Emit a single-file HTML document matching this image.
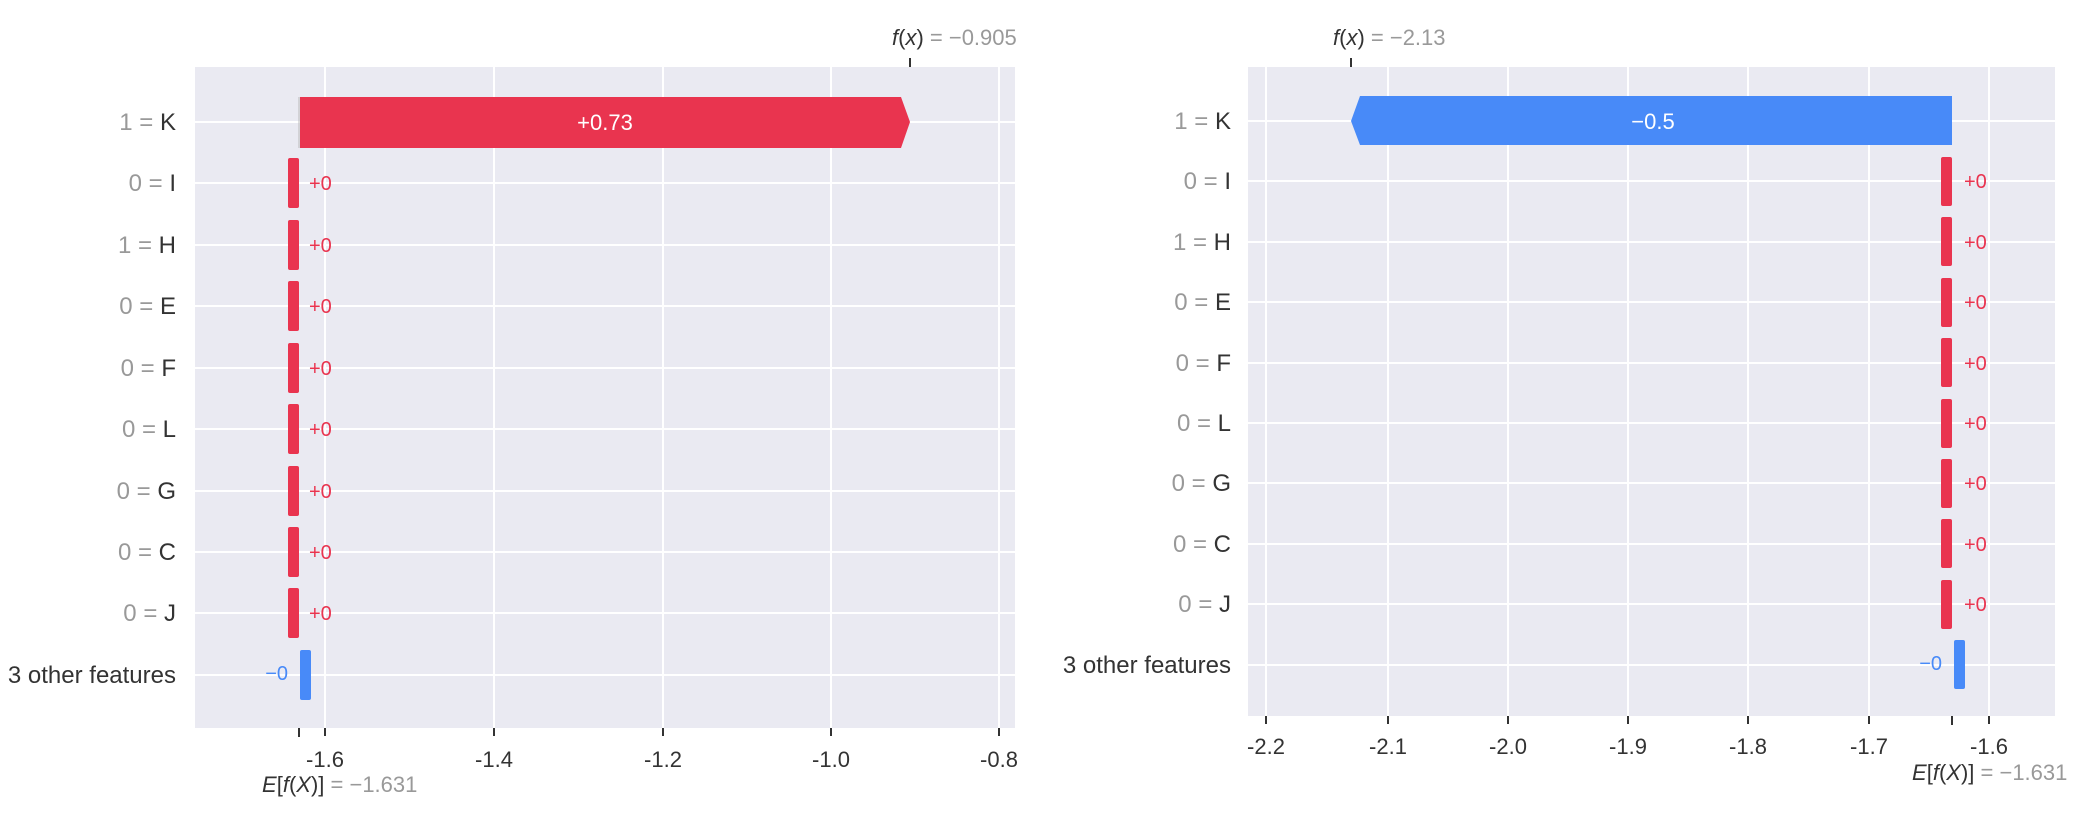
<!DOCTYPE html>
<html><head><meta charset="utf-8"><style>
html,body{margin:0;padding:0;background:#fff;}
svg{display:block;font-family:"Liberation Sans","DejaVu Sans",sans-serif;}
.g{fill:#999;}
.d{fill:#333;}
.tk{font-size:22px;fill:#333;}
</style></head><body>
<svg width="2098" height="820" viewBox="0 0 2098 820" xmlns="http://www.w3.org/2000/svg">
<!-- LEFT CHART -->
<rect x="195" y="67" width="820" height="661" fill="#eaeaf2"/>
<g stroke="#fff" stroke-width="2">
<line x1="325" y1="67" x2="325" y2="728"/><line x1="494" y1="67" x2="494" y2="728"/><line x1="663" y1="67" x2="663" y2="728"/><line x1="831" y1="67" x2="831" y2="728"/><line x1="999" y1="67" x2="999" y2="728"/>
<line x1="195" y1="122" x2="1015" y2="122"/><line x1="195" y1="183" x2="1015" y2="183"/><line x1="195" y1="245" x2="1015" y2="245"/><line x1="195" y1="306" x2="1015" y2="306"/><line x1="195" y1="368" x2="1015" y2="368"/><line x1="195" y1="429" x2="1015" y2="429"/><line x1="195" y1="491" x2="1015" y2="491"/><line x1="195" y1="552" x2="1015" y2="552"/><line x1="195" y1="613" x2="1015" y2="613"/><line x1="195" y1="675" x2="1015" y2="675"/>
</g>
<line x1="299" y1="97" x2="299" y2="148" stroke="#bbb" stroke-width="1"/>
<polygon points="300,97 901,97 910,122 901,148 300,148" fill="#e9344f"/>
<text x="605" y="130" font-size="22" fill="#fff" text-anchor="middle">+0.73</text>
<g fill="#e9344f">
<rect x="288" y="158" width="11" height="50" rx="2"/><rect x="288" y="220" width="11" height="50" rx="2"/><rect x="288" y="281" width="11" height="50" rx="2"/><rect x="288" y="343" width="11" height="50" rx="2"/><rect x="288" y="404" width="11" height="50" rx="2"/><rect x="288" y="466" width="11" height="50" rx="2"/><rect x="288" y="527" width="11" height="50" rx="2"/><rect x="288" y="588" width="11" height="50" rx="2"/>
</g>
<rect x="300" y="650" width="11" height="50" rx="2" fill="#488af8"/>
<g font-size="20" fill="#e9344f">
<text x="309" y="190">+0</text><text x="309" y="252">+0</text><text x="309" y="313">+0</text><text x="309" y="375">+0</text><text x="309" y="436">+0</text><text x="309" y="498">+0</text><text x="309" y="559">+0</text><text x="309" y="620">+0</text>
</g>
<text x="288" y="680" font-size="20" fill="#488af8" text-anchor="end">−0</text>
<g font-size="24" text-anchor="end">
<text x="176" y="130"><tspan class="g">1 = </tspan><tspan class="d">K</tspan></text>
<text x="176" y="191"><tspan class="g">0 = </tspan><tspan class="d">I</tspan></text>
<text x="176" y="253"><tspan class="g">1 = </tspan><tspan class="d">H</tspan></text>
<text x="176" y="314"><tspan class="g">0 = </tspan><tspan class="d">E</tspan></text>
<text x="176" y="376"><tspan class="g">0 = </tspan><tspan class="d">F</tspan></text>
<text x="176" y="437"><tspan class="g">0 = </tspan><tspan class="d">L</tspan></text>
<text x="176" y="499"><tspan class="g">0 = </tspan><tspan class="d">G</tspan></text>
<text x="176" y="560"><tspan class="g">0 = </tspan><tspan class="d">C</tspan></text>
<text x="176" y="621"><tspan class="g">0 = </tspan><tspan class="d">J</tspan></text>
<text x="176" y="683" class="d">3 other features</text>
</g>
<g stroke="#333" stroke-width="2">
<line x1="325" y1="728" x2="325" y2="736"/><line x1="494" y1="728" x2="494" y2="736"/><line x1="663" y1="728" x2="663" y2="736"/><line x1="831" y1="728" x2="831" y2="736"/><line x1="999" y1="728" x2="999" y2="736"/>
<line x1="299" y1="728" x2="299" y2="737"/><line x1="910" y1="58" x2="910" y2="67"/>
</g>
<g class="tk" text-anchor="middle">
<text x="325" y="767">-1.6</text><text x="494" y="767">-1.4</text><text x="663" y="767">-1.2</text><text x="831" y="767">-1.0</text><text x="999" y="767">-0.8</text>
</g>
<text x="262" y="792" font-size="22"><tspan class="d" font-style="italic">E</tspan><tspan class="d">[</tspan><tspan class="d" font-style="italic">f</tspan><tspan class="d">(</tspan><tspan class="d" font-style="italic">X</tspan><tspan class="d">)]</tspan><tspan class="g"> = −1.631</tspan></text>
<text x="892" y="45" font-size="22"><tspan class="d" font-style="italic">f</tspan><tspan class="d">(</tspan><tspan class="d" font-style="italic">x</tspan><tspan class="d">)</tspan><tspan class="g"> = −0.905</tspan></text>

<!-- RIGHT CHART -->
<rect x="1248" y="67" width="807" height="649" fill="#eaeaf2"/>
<g stroke="#fff" stroke-width="2">
<line x1="1266" y1="67" x2="1266" y2="716"/><line x1="1388" y1="67" x2="1388" y2="716"/><line x1="1508" y1="67" x2="1508" y2="716"/><line x1="1628" y1="67" x2="1628" y2="716"/><line x1="1748" y1="67" x2="1748" y2="716"/><line x1="1869" y1="67" x2="1869" y2="716"/><line x1="1989" y1="67" x2="1989" y2="716"/>
<line x1="1248" y1="121" x2="2055" y2="121"/><line x1="1248" y1="181" x2="2055" y2="181"/><line x1="1248" y1="242" x2="2055" y2="242"/><line x1="1248" y1="302" x2="2055" y2="302"/><line x1="1248" y1="363" x2="2055" y2="363"/><line x1="1248" y1="423" x2="2055" y2="423"/><line x1="1248" y1="483" x2="2055" y2="483"/><line x1="1248" y1="544" x2="2055" y2="544"/><line x1="1248" y1="604" x2="2055" y2="604"/><line x1="1248" y1="665" x2="2055" y2="665"/>
</g>
<polygon points="1952,96 1360,96 1351,121 1360,145 1952,145" fill="#488af8"/>
<text x="1653" y="129" font-size="22" fill="#fff" text-anchor="middle">−0.5</text>
<g fill="#e9344f">
<rect x="1941" y="157" width="11" height="49" rx="2"/><rect x="1941" y="217" width="11" height="49" rx="2"/><rect x="1941" y="278" width="11" height="49" rx="2"/><rect x="1941" y="338" width="11" height="49" rx="2"/><rect x="1941" y="399" width="11" height="49" rx="2"/><rect x="1941" y="459" width="11" height="49" rx="2"/><rect x="1941" y="519" width="11" height="49" rx="2"/><rect x="1941" y="580" width="11" height="49" rx="2"/>
</g>
<rect x="1954" y="640" width="11" height="49" rx="2" fill="#488af8"/>
<g font-size="20" fill="#e9344f">
<text x="1964" y="188">+0</text><text x="1964" y="249">+0</text><text x="1964" y="309">+0</text><text x="1964" y="370">+0</text><text x="1964" y="430">+0</text><text x="1964" y="490">+0</text><text x="1964" y="551">+0</text><text x="1964" y="611">+0</text>
</g>
<text x="1942" y="670" font-size="20" fill="#488af8" text-anchor="end">−0</text>
<g font-size="24" text-anchor="end">
<text x="1231" y="129"><tspan class="g">1 = </tspan><tspan class="d">K</tspan></text>
<text x="1231" y="189"><tspan class="g">0 = </tspan><tspan class="d">I</tspan></text>
<text x="1231" y="250"><tspan class="g">1 = </tspan><tspan class="d">H</tspan></text>
<text x="1231" y="310"><tspan class="g">0 = </tspan><tspan class="d">E</tspan></text>
<text x="1231" y="371"><tspan class="g">0 = </tspan><tspan class="d">F</tspan></text>
<text x="1231" y="431"><tspan class="g">0 = </tspan><tspan class="d">L</tspan></text>
<text x="1231" y="491"><tspan class="g">0 = </tspan><tspan class="d">G</tspan></text>
<text x="1231" y="552"><tspan class="g">0 = </tspan><tspan class="d">C</tspan></text>
<text x="1231" y="612"><tspan class="g">0 = </tspan><tspan class="d">J</tspan></text>
<text x="1231" y="673" class="d">3 other features</text>
</g>
<g stroke="#333" stroke-width="2">
<line x1="1266" y1="716" x2="1266" y2="724"/><line x1="1388" y1="716" x2="1388" y2="724"/><line x1="1508" y1="716" x2="1508" y2="724"/><line x1="1628" y1="716" x2="1628" y2="724"/><line x1="1748" y1="716" x2="1748" y2="724"/><line x1="1869" y1="716" x2="1869" y2="724"/><line x1="1989" y1="716" x2="1989" y2="724"/>
<line x1="1952" y1="716" x2="1952" y2="725"/><line x1="1351" y1="58" x2="1351" y2="67"/>
</g>
<g class="tk" text-anchor="middle">
<text x="1266" y="754">-2.2</text><text x="1388" y="754">-2.1</text><text x="1508" y="754">-2.0</text><text x="1628" y="754">-1.9</text><text x="1748" y="754">-1.8</text><text x="1869" y="754">-1.7</text><text x="1989" y="754">-1.6</text>
</g>
<text x="1912" y="780" font-size="22"><tspan class="d" font-style="italic">E</tspan><tspan class="d">[</tspan><tspan class="d" font-style="italic">f</tspan><tspan class="d">(</tspan><tspan class="d" font-style="italic">X</tspan><tspan class="d">)]</tspan><tspan class="g"> = −1.631</tspan></text>
<text x="1333" y="45" font-size="22"><tspan class="d" font-style="italic">f</tspan><tspan class="d">(</tspan><tspan class="d" font-style="italic">x</tspan><tspan class="d">)</tspan><tspan class="g"> = −2.13</tspan></text>
</svg>
</body></html>
